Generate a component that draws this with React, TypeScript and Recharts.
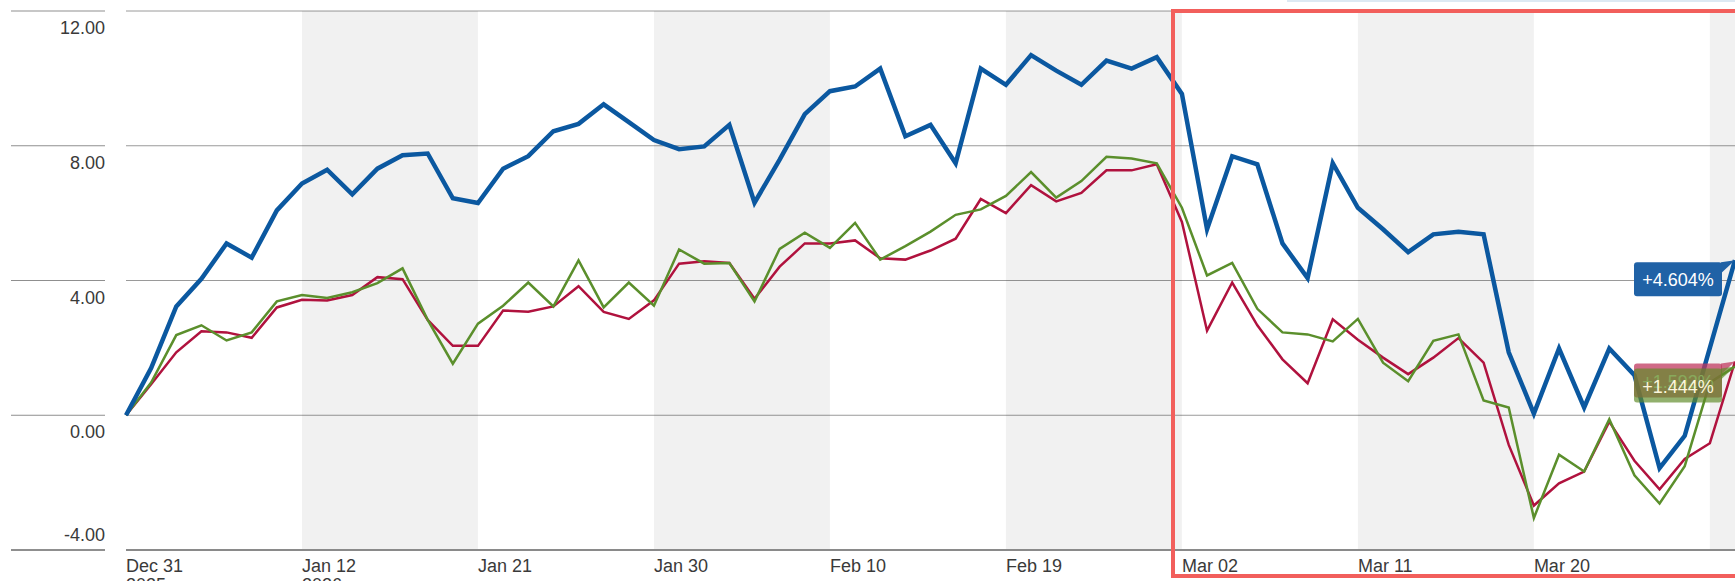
import React from "react"
import { LineChart, Line, XAxis, YAxis, CartesianGrid, ReferenceArea } from "recharts"

const dates = [
  "Dec 31", "Jan 02", "Jan 05", "Jan 06", "Jan 07", "Jan 08", "Jan 09", "Jan 12", "Jan 13", "Jan 14",
  "Jan 15", "Jan 16", "Jan 19", "Jan 20", "Jan 21", "Jan 22", "Jan 23", "Jan 26", "Jan 27", "Jan 28",
  "Jan 29", "Jan 30", "Feb 02", "Feb 03", "Feb 04", "Feb 05", "Feb 06", "Feb 09", "Feb 10", "Feb 11",
  "Feb 12", "Feb 13", "Feb 16", "Feb 17", "Feb 18", "Feb 19", "Feb 20", "Feb 23", "Feb 24", "Feb 25",
  "Feb 26", "Feb 27", "Mar 02", "Mar 03", "Mar 04", "Mar 05", "Mar 06", "Mar 09", "Mar 10", "Mar 11",
  "Mar 12", "Mar 13", "Mar 16", "Mar 17", "Mar 18", "Mar 19", "Mar 20", "Mar 23", "Mar 24", "Mar 25",
  "Mar 26", "Mar 27", "Mar 30", "Mar 31", "Apr 01",
]

// blue
const fundReturn = [
  0, 1.4, 3.23, 4.05, 5.1, 4.68, 6.08, 6.88, 7.29, 6.56, 7.32,
  7.72, 7.77, 6.44, 6.3, 7.32, 7.69, 8.43, 8.65, 9.23, 8.7, 8.17,
  7.9, 7.98, 8.62, 6.31, 7.59, 8.94, 9.62, 9.76, 10.29, 8.28, 8.62,
  7.48, 10.29, 9.81, 10.69, 10.23, 9.81, 10.53, 10.29, 10.63, 9.54, 5.52,
  7.69, 7.45, 5.1, 4.07, 7.48, 6.16, 5.52, 4.84, 5.37, 5.45, 5.37,
  1.87, 0.05, 1.98, 0.23, 1.98, 1.19, -1.57, -0.61, 2.0, 4.604,
]

// red
const categoryReturn = [
  0, 0.92, 1.87, 2.49, 2.46, 2.3, 3.2, 3.43, 3.41, 3.57, 4.1,
  4.04, 2.83, 2.06, 2.06, 3.11, 3.07, 3.23, 3.83, 3.07, 2.86, 3.41,
  4.5, 4.57, 4.52, 3.46, 4.41, 5.1, 5.1, 5.19, 4.66, 4.62, 4.89,
  5.24, 6.42, 6.0, 6.83, 6.35, 6.6, 7.27, 7.27, 7.45, 5.74, 2.51,
  3.94, 2.67, 1.66, 0.95, 2.85, 2.24, 1.71, 1.22, 1.71, 2.29, 1.56,
  -0.88, -2.68, -2.02, -1.67, -0.19, -1.35, -2.2, -1.3, -0.83, 1.592,
]

// green
const indexReturn = [
  0, 0.97, 2.38, 2.67, 2.22, 2.46, 3.38, 3.57, 3.48, 3.65, 3.92,
  4.36, 2.83, 1.53, 2.72, 3.25, 3.94, 3.23, 4.6, 3.2, 3.94, 3.25,
  4.92, 4.5, 4.52, 3.38, 4.94, 5.42, 4.97, 5.71, 4.62, 5.02, 5.45,
  5.95, 6.11, 6.51, 7.22, 6.46, 6.95, 7.67, 7.62, 7.48, 6.16, 4.15,
  4.52, 3.16, 2.46, 2.4, 2.19, 2.86, 1.56, 1.01, 2.21, 2.4, 0.44,
  0.23, -3.05, -1.17, -1.67, -0.12, -1.78, -2.62, -1.51, 0.97, 1.444,
]

const xTicks = [0, 7, 14, 21, 28, 35, 42, 49, 56]
const yearLabels: Record<number, string> = { 0: "2025", 7: "2026" }
const shadedRanges = [[7, 14], [21, 28], [35, 42], [49, 56], [63, 64]]
const yTicks = [-4, 0, 4, 8, 12]

const FONT = "'Liberation Sans', Arial, sans-serif"
const TEXT = "#3a3a3a"

const data = dates.map((d, i) => ({
  idx: i,
  date: d,
  fund: fundReturn[i],
  category: categoryReturn[i],
  index: indexReturn[i],
}))

const YTick = ({ y, payload }: any) => {
  const v = payload.value
  const dy = v === -4 ? -15 : 17
  return (
    <g>
      <line x1={11} x2={105} y1={y} y2={y} stroke="#8f8f8f" strokeWidth={v === -4 ? 2 : 1} />
      <text x={105} y={y + dy} textAnchor="end" dominantBaseline="central" fontSize={18} fontFamily={FONT} fill={TEXT}>
        {v.toFixed(2)}
      </text>
    </g>
  )
}

const XTick = ({ x, y, payload }: any) => {
  const i = payload.value
  return (
    <g>
      <text x={x} y={y + 20} textAnchor="start" fontSize={18} fontFamily={FONT} fill={TEXT}>
        {dates[i]}
      </text>
      {yearLabels[i] && (
        <text x={x} y={y + 39} textAnchor="start" fontSize={18} fontFamily={FONT} fill={TEXT}>
          {yearLabels[i]}
        </text>
      )}
    </g>
  )
}

const endTag = (fill: string, opacity: number, textFill: string) => (props: any) => {
  const { x, y, index, value } = props
  if (index !== dates.length - 1) return <g />
  const left = x - 101
  return (
    <g>
      <polygon points={`${x - 14},${y + 2} ${x},${y} ${x - 14},${y + 13}`} fill={fill} fillOpacity={opacity} />
      <rect x={left} y={y + 2} width={88} height={34} rx={3} fill={fill} fillOpacity={opacity} />
      <text x={left + 44} y={y + 20} textAnchor="middle" dominantBaseline="central" fontSize={18} fontFamily={FONT} fill={textFill}>
        {`+${Number(value).toFixed(3)}%`}
      </text>
    </g>
  )
}

export default function App() {
  return (
    <div style={{ position: "absolute", left: 0, top: 0, width: 1735, height: 581, overflow: "hidden", background: "#fff" }}>
      <LineChart width={1735} height={581} data={data} margin={{ top: 11, right: 0, bottom: 0, left: 0 }}>
        {shadedRanges.map(([a, b]) => (
          <ReferenceArea key={a} x1={a} x2={b} y1={-4} y2={12} fill="#000" fillOpacity={0.055} stroke="none" ifOverflow="hidden" />
        ))}
        <CartesianGrid vertical={false} stroke="#9a9a9a" />
        <XAxis
          dataKey="idx"
          type="number"
          domain={[0, 64]}
          ticks={xTicks}
          interval={0}
          height={31}
          tick={<XTick />}
          tickLine={false}
          tickSize={0}
          axisLine={{ stroke: "#8a8a8a", strokeWidth: 2 }}
        />
        <YAxis
          type="number"
          domain={[-4, 12]}
          ticks={yTicks}
          width={126}
          tick={<YTick />}
          tickLine={false}
          axisLine={false}
          interval={0}
        />
        <Line dataKey="category" stroke="#b0123e" strokeWidth={2.5} dot={false} isAnimationActive={false} />
        <Line dataKey="index" stroke="#5b8f2c" strokeWidth={2.5} dot={false} isAnimationActive={false} />
        <Line dataKey="fund" stroke="#0b58a0" strokeWidth={4.5} dot={false} isAnimationActive={false} />
        <Line dataKey="category" stroke="none" dot={false} activeDot={false} isAnimationActive={false} label={endTag("#c0385f", 0.75, "#dfe8c8")} />
        <Line dataKey="index" stroke="none" dot={false} activeDot={false} isAnimationActive={false} label={endTag("#5f8a28", 0.68, "#fbf6dc")} />
        <Line dataKey="fund" stroke="none" dot={false} activeDot={false} isAnimationActive={false} label={endTag("#2062a6", 1, "#ffffff")} />
      </LineChart>
      <div style={{ position: "absolute", left: 1287, top: 0, width: 448, height: 2, background: "#dde9f3" }} />
      <div
        style={{
          position: "absolute",
          left: 1171,
          top: 9,
          width: 620,
          height: 561,
          border: "4px solid #f25f5c",
          pointerEvents: "none",
        }}
      />
    </div>
  )
}
